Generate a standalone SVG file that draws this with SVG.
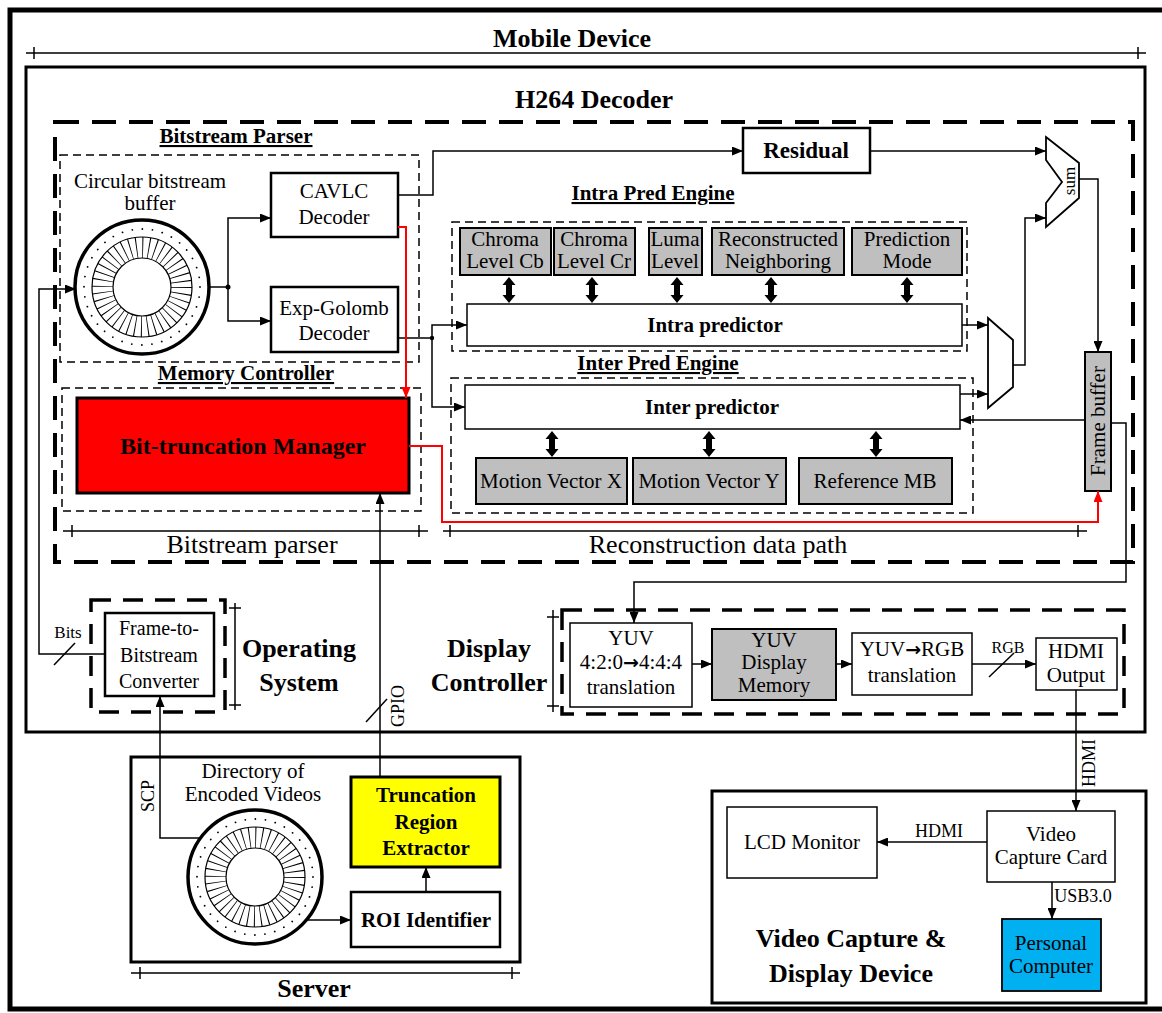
<svg xmlns="http://www.w3.org/2000/svg" width="1162" height="1013" viewBox="0 0 1162 1013">
<defs>
<style>
text{font-family:"Liberation Serif","Times New Roman",serif;fill:#000}
.b{font-weight:bold}
.c{text-anchor:middle}
.u{text-decoration:underline}
.ar{font-family:"DejaVu Sans",sans-serif;font-weight:bold;font-size:19px}
.box{fill:#fff;stroke:#000;stroke-width:2.5}
.thin{fill:#fff;stroke:#000;stroke-width:1.5}
.gray{fill:#bfbfbf;stroke:#000;stroke-width:2}
.dthin{fill:none;stroke:#000;stroke-width:1.5;stroke-dasharray:8 5}
.dthick{fill:none;stroke:#000;stroke-width:4;stroke-dasharray:24 13}
.ln{fill:none;stroke:#000;stroke-width:1.5}
.arr{fill:none;stroke:#000;stroke-width:1.5;marker-end:url(#ah)}
.rarr{fill:none;stroke:#f00;stroke-width:2;marker-end:url(#ahr)}
.f21{font-size:21px}
.f26{font-size:26px}
</style>
<marker id="ah" viewBox="0 0 11 9" refX="11" refY="4.5" markerWidth="11" markerHeight="9" orient="auto" markerUnits="userSpaceOnUse"><path d="M0,0 L11,4.5 L0,9 Z" fill="#000"/></marker>
<marker id="ahr" viewBox="0 0 11 9" refX="11" refY="4.5" markerWidth="11" markerHeight="9" orient="auto" markerUnits="userSpaceOnUse"><path d="M0,0 L11,4.5 L0,9 Z" fill="#f00"/></marker>
<path id="da" d="M0,0 L6.5,8 L3,8 L3,18 L6.5,18 L0,26 L-6.5,18 L-3,18 L-3,8 L-6.5,8 Z" fill="#000"/>
<g id="disk">
<circle r="67" fill="#fff" stroke="#000" stroke-width="3.5"/>
<circle r="58" fill="none" stroke="#000" stroke-width="1.8" stroke-linecap="round" stroke-dasharray="0.01 10.11"/>
<circle r="39.5" fill="none" stroke="#000" stroke-width="21" stroke-dasharray="0.9 5.305"/>
<circle r="50" fill="none" stroke="#000" stroke-width="1.2"/>
<circle r="29" fill="#fff" stroke="#000" stroke-width="1.2"/>
</g>
</defs>

<rect x="0" y="0" width="1162" height="1013" fill="#fff"/>

<g id="outer">
<rect x="10" y="10" width="1170" height="999" fill="none" stroke="#000" stroke-width="5"/>
</g>
<g id="mobile-device">
<text x="572" y="47" class="b c f26">Mobile Device</text>
<path class="ln" d="M26,53 H1146 M34,47 V59 M1138,47 V59"/>
<rect x="26" y="67" width="1119" height="665" fill="none" stroke="#000" stroke-width="3"/>
</g>
<g id="h264-decoder">
<text x="594" y="108" class="b c f26">H264 Decoder</text>
<rect x="55" y="122" width="1078" height="440" class="dthick"/>
</g>
<g id="bitstream-parser">
<text x="236" y="143" class="b c u f21">Bitstream Parser</text>
<rect x="60" y="155" width="359" height="207" class="dthin"/>
<text x="150" y="188" class="c f21">Circular bitstream</text>
<text x="150" y="210" class="c f21">buffer</text>
</g>
<g id="circular-buffer"><use href="#disk" x="142" y="287"/></g>
<g id="cavlc">
<rect x="271" y="173" width="127" height="64" class="box"/>
<text x="334" y="198" class="c f21">CAVLC</text>
<text x="334" y="224" class="c f21">Decoder</text>
</g>
<g id="exp-golomb">
<rect x="271" y="287" width="127" height="65" class="box"/>
<text x="334" y="315" class="c f21">Exp-Golomb</text>
<text x="334" y="340" class="c f21">Decoder</text>
</g>
<g id="memory-controller">
<text x="246" y="380" class="b c u f21">Memory Controller</text>
<rect x="62" y="388" width="359" height="123" class="dthin"/>
</g>
<g id="bit-truncation-manager">
<rect x="77" y="398" width="332" height="95" fill="#f00" stroke="#000" stroke-width="3"/>
<text x="243" y="454" class="b c" font-size="24">Bit-truncation Manager</text>
</g>
<g id="dim-bitstream">
<path class="ln" d="M63,531 H428 M72,525 V537 M419,525 V537"/>
<text x="252" y="553" class="c f26">Bitstream parser</text>
</g>
<g id="dim-recon">
<path class="ln" d="M443,531 H1087 M450,525 V537 M1078,525 V537"/>
<text x="718" y="553" class="c f26">Reconstruction data path</text>
</g>
<g id="residual">
<rect x="743" y="128" width="127" height="45" class="box"/>
<text x="806" y="158" class="b c" font-size="23">Residual</text>
</g>

<g id="intra-engine">
<text x="653" y="200" class="b c u f21">Intra Pred Engine</text>
<rect x="452" y="222" width="515" height="129" class="dthin"/>
</g>
<g id="chroma-cb"><rect x="460" y="228" width="91" height="47" class="gray"/>
<text x="505" y="246" class="c f21">Chroma</text><text x="505" y="268" class="c f21">Level Cb</text></g>
<g id="chroma-cr"><rect x="554" y="228" width="81" height="47" class="gray"/>
<text x="594" y="246" class="c f21">Chroma</text><text x="594" y="268" class="c f21">Level Cr</text></g>
<g id="luma-level"><rect x="649" y="228" width="53" height="47" class="gray"/>
<text x="675" y="246" class="c f21">Luma</text><text x="675" y="268" class="c f21">Level</text></g>
<g id="recon-neighboring"><rect x="712" y="228" width="132" height="47" class="gray"/>
<text x="778" y="246" class="c f21">Reconstructed</text><text x="778" y="268" class="c f21">Neighboring</text></g>
<g id="prediction-mode"><rect x="852" y="228" width="110" height="47" class="gray"/>
<text x="907" y="246" class="c f21">Prediction</text><text x="907" y="268" class="c f21">Mode</text></g>
<g id="intra-predictor">
<rect x="467" y="304" width="495" height="42" class="thin"/>
<text x="715" y="332" class="b c f21">Intra predictor</text>
</g>

<g id="inter-engine">
<text x="658" y="370" class="b c u f21">Inter Pred Engine</text>
<rect x="451" y="378" width="522" height="135" class="dthin"/>
</g>
<g id="inter-predictor">
<rect x="465" y="385" width="495" height="44" class="thin"/>
<text x="712" y="414" class="b c f21">Inter predictor</text>
</g>
<g id="mv-x"><rect x="476" y="458" width="151" height="46" class="gray"/>
<text x="551" y="488" class="c f21">Motion Vector X</text></g>
<g id="mv-y"><rect x="633" y="458" width="153" height="46" class="gray"/>
<text x="709" y="488" class="c f21">Motion Vector Y</text></g>
<g id="reference-mb"><rect x="799" y="458" width="153" height="46" class="gray"/>
<text x="875" y="488" class="c f21">Reference MB</text></g>

<g id="mux"><path d="M988,318 L1013,340 L1013,387 L988,408 Z" fill="#fff" stroke="#000" stroke-width="1.8"/></g>
<g id="sum">
<path d="M1046,137 L1079,163 L1079,198 L1046,227 L1046,203 L1062,182 L1046,160 Z" fill="#fff" stroke="#000" stroke-width="1.8"/>
<text transform="translate(1075,181) rotate(-90)" class="c" font-size="17">sum</text>
</g>
<g id="frame-buffer">
<rect x="1085" y="352" width="26" height="139" class="gray"/>
<text transform="translate(1105,421) rotate(-90)" class="c f21">Frame buffer</text>
</g>

<g id="operating-system">
<rect x="91" y="600" width="134" height="112" fill="none" stroke="#000" stroke-width="3.5" stroke-dasharray="20 12"/>
<path class="ln" d="M235,603 V710 M229,608 H241 M229,705 H241"/>
<text x="299" y="657" class="b c f26">Operating</text>
<text x="299" y="691" class="b c f26">System</text>
</g>
<g id="frame-to-bitstream">
<rect x="105" y="613" width="109" height="83" class="box"/>
<text x="159" y="635" class="c" font-size="20">Frame-to-</text>
<text x="159" y="662" class="c" font-size="20">Bitstream</text>
<text x="159" y="688" class="c" font-size="20">Converter</text>
</g>

<g id="display-controller">
<text x="489" y="657" class="b c f26">Display</text>
<text x="489" y="691" class="b c f26">Controller</text>
<path class="ln" d="M553,610 V712 M547,617 H559 M547,706 H559"/>
<rect x="562" y="610" width="562" height="104" fill="none" stroke="#000" stroke-width="3.5" stroke-dasharray="20 12"/>
</g>
<g id="yuv-translation">
<rect x="570" y="623" width="122" height="84" class="thin"/>
<text x="631" y="645" class="c f21">YUV</text>
<text x="631" y="669" class="c f21">4:2:0<tspan class="ar">→</tspan>4:4:4</text>
<text x="631" y="694" class="c f21">translation</text>
</g>
<g id="yuv-display-memory">
<rect x="712" y="629" width="124" height="71" class="gray"/>
<text x="774" y="647" class="c f21">YUV</text>
<text x="774" y="669" class="c f21">Display</text>
<text x="774" y="692" class="c f21">Memory</text>
</g>
<g id="yuv-rgb">
<rect x="852" y="633" width="120" height="62" class="thin"/>
<text x="912" y="656" class="c f21">YUV<tspan class="ar">→</tspan>RGB</text>
<text x="912" y="682" class="c f21">translation</text>
</g>
<g id="hdmi-output">
<rect x="1036" y="638" width="81" height="52" class="thin"/>
<text x="1076" y="658" class="c f21">HDMI</text>
<text x="1076" y="682" class="c f21">Output</text>
</g>

<g id="server">
<rect x="131" y="757" width="389" height="205" fill="none" stroke="#000" stroke-width="3"/>
<text x="253" y="778" class="c f21">Directory of</text>
<text x="253" y="801" class="c f21">Encoded Videos</text>
<path class="ln" d="M131,973 H520 M140,967 V979 M512,967 V979"/>
<text x="314" y="997" class="b c f26">Server</text>
</g>
<g id="video-directory"><use href="#disk" x="255" y="877"/></g>
<g id="truncation-region-extractor">
<rect x="351" y="777" width="149" height="90" fill="#ff0" stroke="#000" stroke-width="3"/>
<text x="426" y="802" class="b c f21">Truncation</text>
<text x="426" y="829" class="b c f21">Region</text>
<text x="426" y="855" class="b c f21">Extractor</text>
</g>
<g id="roi-identifier">
<rect x="351" y="892" width="149" height="55" class="box"/>
<text x="426" y="927" class="b c f21">ROI Identifier</text>
</g>

<g id="capture-device">
<rect x="712" y="791" width="434" height="212" fill="none" stroke="#000" stroke-width="3"/>
<text x="851" y="947" class="b c f26">Video Capture &amp;</text>
<text x="851" y="982" class="b c f26">Display Device</text>
</g>
<g id="lcd-monitor">
<rect x="727" y="807" width="150" height="71" class="thin"/>
<text x="802" y="849" class="c f21">LCD Monitor</text>
</g>
<g id="video-capture-card">
<rect x="987" y="811" width="128" height="71" class="thin"/>
<text x="1051" y="841" class="c f21">Video</text>
<text x="1051" y="864" class="c f21">Capture Card</text>
</g>
<g id="personal-computer">
<rect x="1002" y="919" width="99" height="72" fill="#00b0f0" stroke="#000" stroke-width="1.8"/>
<text x="1051" y="950" class="c f21">Personal</text>
<text x="1051" y="973" class="c f21">Computer</text>
</g>

<g id="connectors">
<path class="arr" d="M105,654 H39 V289 H76"/>
<path class="ln" d="M54,665 L75,643"/>
<text x="68" y="638" class="c" font-size="17">Bits</text>
<path class="ln" d="M208,287 H228"/>
<circle cx="228" cy="287" r="2.5" fill="#000"/>
<path class="arr" d="M228,287 V218 H271"/>
<path class="arr" d="M228,287 V321 H271"/>
<path class="arr" d="M398,195 H433 V151 H743"/>
<path class="ln" d="M398,338 H432"/>
<circle cx="432" cy="338" r="2.2" fill="#000"/>
<path class="arr" d="M432,338 V325 H467"/>
<path class="arr" d="M432,338 V407 H465"/>
<path class="arr" d="M870,151 H1046"/>
<path class="arr" d="M962,325 H988"/>
<path class="arr" d="M960,394 H988"/>
<path class="arr" d="M1013,365 H1025 V218 H1046"/>
<path class="arr" d="M1079,179 H1098 V352"/>
<path class="arr" d="M1085,420 H960"/>
<path class="arr" d="M1111,423 H1126 V582 H634 V623"/>
<use href="#da" x="509" y="277"/>
<use href="#da" x="592" y="277"/>
<use href="#da" x="677" y="277"/>
<use href="#da" x="771" y="277"/>
<use href="#da" x="907" y="277"/>
<use href="#da" x="552" y="431"/>
<use href="#da" x="709" y="431"/>
<use href="#da" x="876" y="431"/>
<path class="rarr" d="M398,227 H406 V398"/>
<path class="rarr" d="M409,446 H442 V522 H1098 V491"/>
<path class="arr" d="M380,777 V493"/>
<path class="ln" d="M366,722 L387,699"/>
<text transform="translate(404,706) rotate(-90)" class="c" font-size="18">GPIO</text>
<path class="arr" d="M200,838 H160 V696"/>
<text transform="translate(154,796) rotate(-90)" class="c" font-size="18">SCP</text>
<path class="arr" d="M307,920 H351"/>
<path class="arr" d="M426,892 V867"/>
<path class="arr" d="M692,664 H712"/>
<path class="arr" d="M836,664 H852"/>
<path class="arr" d="M972,664 H1036"/>
<path class="ln" d="M989,677 L1014,653"/>
<text x="1008" y="653" class="c" font-size="16">RGB</text>
<path class="arr" d="M1076,690 V811"/>
<text transform="translate(1095,763) rotate(-90)" class="c" font-size="18">HDMI</text>
<path class="arr" d="M987,842 H877"/>
<text x="939" y="837" class="c" font-size="18">HDMI</text>
<path class="arr" d="M1052,882 V919"/>
<text x="1083" y="902" class="c" font-size="18">USB3.0</text>
</g>
</svg>
